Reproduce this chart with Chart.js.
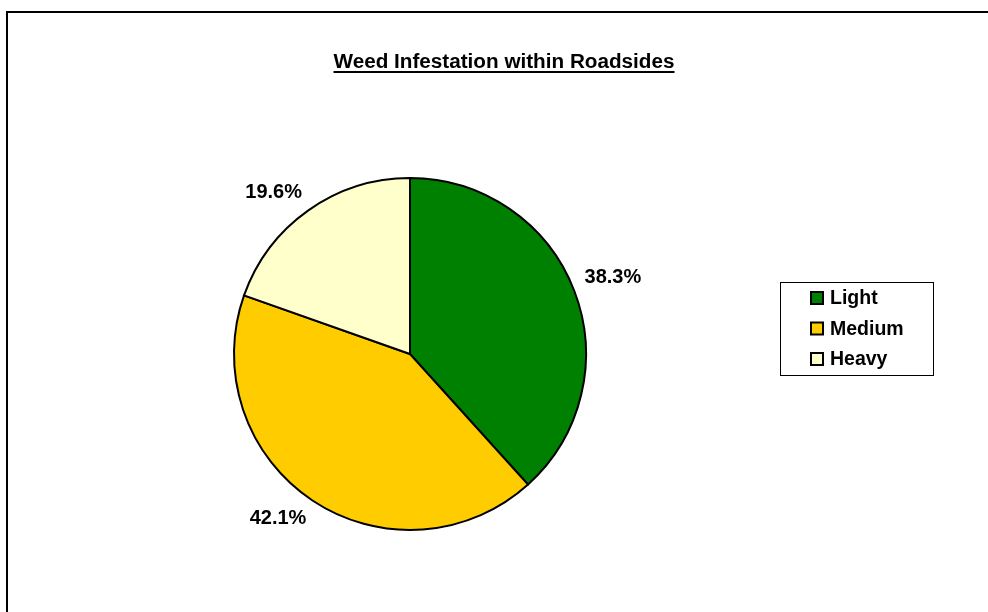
<!DOCTYPE html>
<html>
	<head>
		<title>Weed Infestation within Roadsides</title>
		<script src="https://cdnjs.cloudflare.com/ajax/libs/Chart.js/4.4.1/chart.umd.min.js"></script>
		<style>
			html, body {
				margin: 0;
				padding: 0;
				background: #fff;
			}
			.chart-container {
				width: 988px;
				height: 612px;
			}
		</style>
	</head>
	<body>
		<div class="chart-container">
			<canvas id="pieChart"></canvas>
		</div>
		<script>
			const chartTitle = "Weed Infestation within Roadsides";
			const categories = ["Light", "Medium", "Heavy"];
			const percentages = [38.3, 42.1, 19.6];
			const sliceColors = ["#008000", "#FFCC00", "#FFFFCC"];

			const FONT = "'Liberation Sans', Arial, sans-serif";

			// frame, underlined title, outside labels and boxed legend
			const decorations = {
				id: "decorations",
				afterDraw(chart) {
					const ctx = chart.ctx;
					ctx.save();

					// frame (only top and left edges show in the picture)
					ctx.strokeStyle = "#000";
					ctx.lineWidth = 2;
					ctx.beginPath();
					ctx.moveTo(7, chart.height);
					ctx.lineTo(7, 12);
					ctx.lineTo(chart.width, 12);
					ctx.stroke();

					// title
					ctx.fillStyle = "#000";
					ctx.font = "bold 20.7px " + FONT;
					ctx.textAlign = "center";
					ctx.textBaseline = "alphabetic";
					const tx = 504, ty = 68;
					ctx.fillText(chartTitle, tx, ty);
					const tw = ctx.measureText(chartTitle).width;
					ctx.fillRect(tx - tw / 2, ty + 3, tw, 2);

					// percentage labels outside the slices
					const meta = chart.getDatasetMeta(0);
					ctx.font = "bold 20px " + FONT;
					ctx.textBaseline = "middle";
					meta.data.forEach((arc, i) => {
						const p = arc.getProps(["x", "y", "startAngle", "endAngle", "outerRadius"], true);
						const mid = (p.startAngle + p.endAngle) / 2;
						const dx = Math.cos(mid), dy = Math.sin(mid);
						const text = percentages[i].toFixed(1) + "%";
						const w = ctx.measureText(text).width;
						const r = p.outerRadius + 11;
						const x = p.x + dx * r + Math.sign(dx) * w / 2;
						const y = p.y + dy * r + Math.sign(dy) * 9;
						ctx.fillText(text, x, y);
					});

					// legend box
					const lx = 780.5, ly = 282.5, lw = 153, lh = 93;
					ctx.strokeStyle = "#000";
					ctx.lineWidth = 1;
					ctx.strokeRect(lx, ly, lw, lh);
					ctx.font = "bold 19.5px " + FONT;
					ctx.textAlign = "left";
					categories.forEach((name, i) => {
						const cy = 298 + i * 30.5;
						ctx.fillStyle = sliceColors[i];
						ctx.fillRect(811, cy - 6, 12, 12);
						ctx.lineWidth = 2;
						ctx.strokeRect(811, cy - 6, 12, 12);
						ctx.fillStyle = "#000";
						ctx.fillText(name, 830, cy + 1);
					});

					ctx.restore();
				},
			};

			const data = {
				labels: categories,
				datasets: [
					{
						data: percentages,
						backgroundColor: sliceColors,
						borderColor: "#000",
						borderWidth: 2,
						borderJoinStyle: "miter",
					},
				],
			};

			const config = {
				type: "pie",
				data: data,
				options: {
					responsive: true,
					maintainAspectRatio: false,
					animation: false,
					layout: {
						padding: { top: 177, bottom: 81, left: 200, right: 368 },
					},
					plugins: {
						legend: { display: false },
						title: { display: false },
						tooltip: { enabled: false },
					},
				},
				plugins: [decorations],
			};

			const ctx = document.getElementById("pieChart");
			new Chart(ctx, config);
		</script>
	</body>
</html>
